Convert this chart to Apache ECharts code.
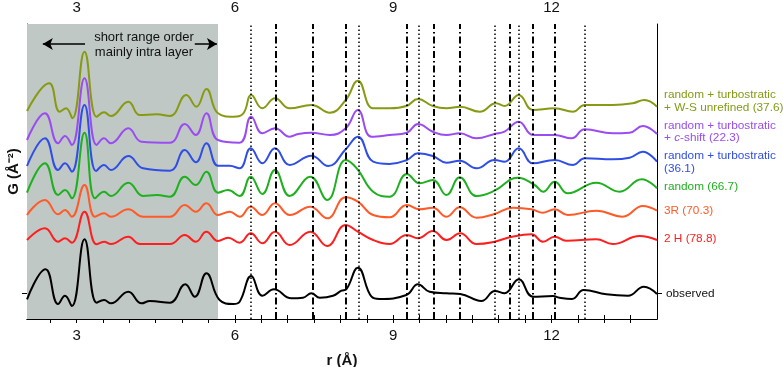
<!DOCTYPE html>
<html>
<head>
<meta charset="utf-8">
<script src="https://cdn.jsdelivr.net/npm/echarts@6/dist/echarts.min.js"></script>
<style>
  html, body { margin: 0; padding: 0; background: #fff; }
  #chart { width: 783px; height: 367px; }
</style>
</head>
<body>
<div id="chart"></div>
<script>
// r positions (Å) and G values (arbitrary units, stacked)
const obsR = [2.06, 2.41, 2.65, 2.78, 2.91, 3.15, 3.38, 3.52, 3.65, 3.98, 4.23, 4.39, 4.77, 5.06, 5.24, 5.46, 5.71, 5.97, 6.09, 6.31, 6.52, 6.74, 7.07, 7.29, 7.45, 7.61, 7.86, 8.02, 8.11, 8.33, 8.59, 8.74, 9.25, 9.47, 9.69, 10.01, 10.27, 10.67, 10.93, 11.11, 11.38, 11.65, 12.03, 12.15, 12.39, 12.61, 13.04, 13.45, 13.75, 14.0];
const obsG = [19.7, 49.7, 15, 23.3, 13, 79.7, 16.3, 19, 15.7, 27.3, 15.7, 18, 16.3, 34.7, 22.3, 45.7, 19, 15, 17.3, 43, 23.3, 29.7, 20.7, 21.3, 25.7, 21.3, 23.3, 28.3, 29.7, 51.3, 22.3, 20, 24, 34.7, 27.3, 25.7, 25, 18, 28, 25.7, 39.7, 22.3, 23, 21.3, 20, 29, 24.7, 23.3, 32.3, 25];

const r2hR = [2.06, 2.40, 2.65, 2.78, 2.91, 3.15, 3.38, 3.52, 3.65, 3.98, 4.20, 4.77, 5.05, 5.26, 5.46, 5.68, 5.87, 6.09, 6.30, 6.52, 6.76, 7.04, 7.43, 7.75, 8.10, 8.33, 8.62, 8.93, 9.26, 9.47, 9.75, 10.01, 10.27, 10.58, 10.92, 11.21, 11.62, 11.84, 12.06, 12.28, 12.85, 13.16, 13.67, 14.0];
const r2hG = [79, 90.7, 77.3, 80.7, 76.3, 107.3, 74.7, 77.3, 75, 82.3, 75, 75, 84, 77.3, 87.3, 78, 81.3, 76.3, 85.7, 75.7, 87.3, 74, 87.3, 73, 94, 87.3, 79, 75, 84, 80.7, 88, 79, 85.7, 75, 77.3, 81.7, 84.7, 77.3, 82.3, 78.3, 79.7, 75, 83, 79];

const r3rR = [2.06, 2.40, 2.65, 2.78, 2.91, 3.15, 3.35, 3.52, 3.65, 3.98, 4.26, 4.77, 5.05, 5.26, 5.46, 5.68, 5.90, 6.09, 6.30, 6.52, 6.76, 7.04, 7.43, 7.75, 8.10, 8.33, 8.62, 8.93, 9.26, 9.50, 9.75, 10.01, 10.26, 10.58, 10.92, 11.27, 11.62, 11.84, 12.06, 12.31, 12.85, 13.35, 13.73, 14.0];
const r3rG = [104, 119, 104.7, 109, 102.3, 134, 102.3, 105.7, 102.3, 109.7, 102.3, 102.3, 114, 107.3, 115.7, 104, 107.3, 102.3, 112.3, 104, 115.7, 104, 112.3, 100.7, 121.7, 117.3, 104, 101.7, 114, 109.7, 111.3, 102.3, 111.7, 101.3, 105, 111.3, 109.7, 106.3, 109.7, 104, 108.3, 102.3, 113, 108.3];

const randR = [2.06, 2.40, 2.65, 2.78, 2.91, 3.15, 3.35, 3.52, 3.65, 3.98, 4.26, 4.52, 4.77, 5.05, 5.26, 5.46, 5.68, 5.87, 6.09, 6.30, 6.52, 6.76, 7.04, 7.43, 7.75, 8.10, 8.31, 8.62, 8.93, 9.26, 9.50, 9.75, 10.01, 10.26, 10.58, 10.92, 11.36, 11.68, 11.84, 12.06, 12.31, 12.85, 13.29, 13.71, 14.0];
const randG = [126.3, 155.7, 124, 129, 120.7, 186.3, 120.7, 127.3, 123, 136.3, 123, 124, 122.3, 142.3, 134, 147.3, 126.3, 129, 123, 142.3, 125, 149, 123, 142.3, 119, 159, 150.7, 127.3, 122.3, 145, 135.7, 139, 124, 141.7, 123, 128.3, 141.3, 134, 127.3, 137.3, 125.7, 136.3, 127.3, 139.7, 130.7];

const turbR = [2.06, 2.40, 2.65, 2.78, 2.91, 3.15, 3.37, 3.52, 3.65, 3.98, 4.26, 4.77, 5.05, 5.26, 5.46, 5.68, 5.90, 6.09, 6.30, 6.52, 6.76, 7.04, 7.45, 7.77, 8.10, 8.33, 8.62, 8.93, 9.26, 9.47, 9.75, 10.01, 10.26, 10.58, 10.92, 11.11, 11.38, 11.65, 12.06, 12.41, 12.63, 13.16, 13.48, 13.73, 14.0];
const turbG = [153, 180.7, 149, 155.7, 147.3, 214, 148, 154, 149, 163, 150.7, 148.3, 169, 156.7, 175.7, 153.3, 153.3, 150.7, 170.7, 155.7, 170.7, 154, 163.3, 153, 169.7, 182.3, 157.3, 155, 159, 165.7, 163, 156.3, 158.3, 150.7, 159, 157.3, 170.7, 155.7, 159, 154, 160.7, 159.7, 161.3, 167.3, 157.3];

const cshR = [2.06, 2.40, 2.65, 2.78, 2.91, 3.15, 3.38, 3.52, 3.65, 3.98, 4.23, 4.77, 5.05, 5.26, 5.46, 5.68, 6.09, 6.31, 6.52, 6.76, 7.04, 7.20, 7.45, 7.80, 8.10, 8.33, 8.59, 8.93, 9.26, 9.47, 9.75, 10.01, 10.26, 10.58, 10.92, 11.11, 11.38, 11.65, 12.06, 12.38, 12.63, 13.16, 13.48, 13.73, 14.0];
const cshG = [179, 205.7, 175.7, 183, 174, 240.7, 174, 180.7, 175.7, 190.7, 177.3, 176.3, 195, 184, 205.7, 179, 176.3, 202.3, 185.7, 190.7, 182.3, 185, 186.3, 184, 190.7, 209, 182.3, 184, 186.3, 195, 187.3, 184, 185.7, 180.7, 185, 187.3, 197.3, 184, 184, 180.7, 189.7, 185.7, 186.3, 193, 185];

const wsR = [2.06, 2.48, 2.68, 2.80, 2.92, 3.15, 3.38, 3.52, 3.65, 3.98, 4.20, 4.52, 4.77, 5.08, 5.27, 5.46, 5.68, 5.97, 6.16, 6.31, 6.52, 6.76, 7.04, 7.45, 7.80, 8.10, 8.33, 8.62, 8.93, 9.25, 9.47, 9.75, 10.01, 10.27, 10.64, 10.95, 11.11, 11.38, 11.65, 12.06, 12.41, 12.63, 13.16, 13.54, 13.76, 14.0];
const wsG = [208, 235.7, 207.3, 210.7, 200.7, 267.3, 202.3, 206.7, 203, 217.3, 204, 204.7, 203, 224, 212.3, 230, 205.7, 202.3, 205.7, 224, 210.7, 220.7, 210.7, 214, 206.3, 219, 238.3, 210.7, 210.7, 213, 220, 213, 210.7, 212.3, 207.3, 215.7, 213, 224, 209, 210.7, 207.3, 214, 214, 215.7, 219, 212.3];

// reference lines
const dottedR = [6.30, 8.35, 9.48, 10.92, 11.38, 12.63];
const dashDotR = [6.77, 7.47, 8.11, 9.26, 9.77, 10.27, 11.21, 11.64, 12.06];
const shadeEnd = 5.68;
const obsBase = 26;

const xTicks = [2.5, 3, 3.5, 4, 4.5, 5, 5.5, 6, 6.5, 7, 7.5, 8, 8.5, 9, 9.5, 10, 10.5, 11, 11.5, 12, 12.5, 13, 13.5];
const xLabels = [3, 6, 9, 12];

const FONT = "'Liberation Sans', Arial, sans-serif";
const zip = (a, b) => a.map((v, i) => [v, b[i]]);

function curve(name, r, g, color) {
  return {
    name: name,
    type: "line",
    data: zip(r, g),
    smooth: 0.45,
    showSymbol: false,
    z: 4,
    lineStyle: { color: color, width: 2 },
    itemStyle: { color: color }
  };
}

const myChart = echarts.init(document.getElementById("chart"));

const xCommon = {
  type: "value",
  min: 2.06,
  max: 14,
  splitLine: { show: false },
  axisLine: { lineStyle: { color: "#000", width: 1 } },
  axisTick: { customValues: xTicks, length: 4, lineStyle: { color: "#000" } },
  axisLabel: { customValues: xLabels, color: "#111", fontSize: 15, fontFamily: FONT, margin: 9 }
};

const option = {
  animation: false,
  grid: { left: 27, right: 126, top: 24, bottom: 48, containLabel: false, outerBoundsMode: "none" },
  xAxis: [
    Object.assign({}, xCommon, {
      position: "bottom",
      name: "r (Å)",
      nameLocation: "middle",
      nameGap: 34,
      nameTextStyle: { fontSize: 15, fontWeight: "bold", color: "#111", fontFamily: FONT }
    }),
    Object.assign({}, xCommon, { position: "top" })
  ],
  yAxis: [
    {
      type: "value",
      min: 0,
      max: 295,
      position: "left",
      name: "G (Å⁻²)",
      nameLocation: "middle",
      nameGap: 6,
      nameRotate: 90,
      nameTextStyle: { fontSize: 15, fontWeight: "bold", color: "#111", fontFamily: FONT },
      splitLine: { show: false },
      axisLine: { show: true, lineStyle: { color: "#000" } },
      axisTick: { customValues: [obsBase], length: 5, lineStyle: { color: "#000" } },
      axisLabel: { show: false }
    },
    {
      type: "value",
      min: 0,
      max: 295,
      position: "right",
      splitLine: { show: false },
      axisLine: { show: true, lineStyle: { color: "#000" } },
      axisTick: { customValues: [obsBase], length: 5, lineStyle: { color: "#000" } },
      axisLabel: { show: false }
    }
  ],
  series: [
    {
      type: "line",
      data: [],
      z: 1,
      markArea: {
        silent: true,
        itemStyle: { color: "#bfc8c5" },
        data: [[{ xAxis: 2.06 }, { xAxis: shadeEnd }]]
      }
    },
    {
      type: "line",
      data: [],
      z: 5,
      markLine: {
        silent: true,
        symbol: "none",
        label: { show: false },
        data: dottedR.map(v => ({ xAxis: v, lineStyle: { color: "#000", width: 1.5, type: [1.5, 2.5] } }))
          .concat(dashDotR.map(v => ({ xAxis: v, lineStyle: { color: "#000", width: 2, type: [7, 3, 1.5, 3] } })))
      }
    },
    {
      type: "line",
      data: [],
      z: 5,
      markLine: {
        silent: true,
        symbolSize: [9, 10],
        label: { show: false },
        lineStyle: { color: "#000", width: 1.5, type: "solid" },
        data: [
          [{ coord: [3.16, 275], symbol: "none" }, { coord: [2.36, 275], symbol: "arrow" }],
          [{ coord: [5.24, 275], symbol: "none" }, { coord: [5.66, 275], symbol: "arrow" }]
        ]
      }
    },
    curve("observed", obsR, obsG, "#000000"),
    curve("2 H", r2hR, r2hG, "#ff1e1e"),
    curve("3R", r3rR, r3rG, "#ff5a28"),
    curve("random", randR, randG, "#1fb01f"),
    curve("random + turbostratic", turbR, turbG, "#2f4ee6"),
    curve("random + turbostratic + c-shift", cshR, cshG, "#9a4cf2"),
    curve("random + turbostratic + W-S unrefined", wsR, wsG, "#879a12")
  ],
  graphic: [
    {
      type: "text", x: 144, y: 30, z: 100,
      style: { text: "short range order\nmainly intra layer", font: "13px " + FONT, fill: "#111", align: "center", lineHeight: 15 }
    },
    { type: "text", x: 664, y: 95, style: { text: "random + turbostratic", font: "11.8px " + FONT, fill: "#859a14", verticalAlign: "middle" } },
    { type: "text", x: 664, y: 108, style: { text: "+ W-S unrefined (37.6)", font: "11.8px " + FONT, fill: "#859a14", verticalAlign: "middle" } },
    { type: "text", x: 664, y: 126, style: { text: "random + turbostratic", font: "11.8px " + FONT, fill: "#9a4cf2", verticalAlign: "middle" } },
    {
      type: "text", x: 664, y: 138,
      style: {
        text: "+ {i|c}-shift (22.3)", font: "11.8px " + FONT, fill: "#9a4cf2", verticalAlign: "middle",
        rich: { i: { fontStyle: "italic", fontSize: 11.8, fontFamily: FONT, fill: "#9a4cf2" } }
      }
    },
    { type: "text", x: 664, y: 156, style: { text: "random + turbostratic", font: "11.8px " + FONT, fill: "#2f4ee6", verticalAlign: "middle" } },
    { type: "text", x: 664, y: 169, style: { text: "(36.1)", font: "11.8px " + FONT, fill: "#2f4ee6", verticalAlign: "middle" } },
    { type: "text", x: 664, y: 187, style: { text: "random (66.7)", font: "11.8px " + FONT, fill: "#1fb01f", verticalAlign: "middle" } },
    { type: "text", x: 664, y: 211, style: { text: "3R (70.3)", font: "11.8px " + FONT, fill: "#ff5a28", verticalAlign: "middle" } },
    { type: "text", x: 664, y: 239, style: { text: "2 H (78.8)", font: "11.8px " + FONT, fill: "#ff1e1e", verticalAlign: "middle" } },
    { type: "text", x: 666, y: 294, style: { text: "observed", font: "11.8px " + FONT, fill: "#111", verticalAlign: "middle" } }
  ]
};

myChart.setOption(option);
</script>
</body>
</html>
